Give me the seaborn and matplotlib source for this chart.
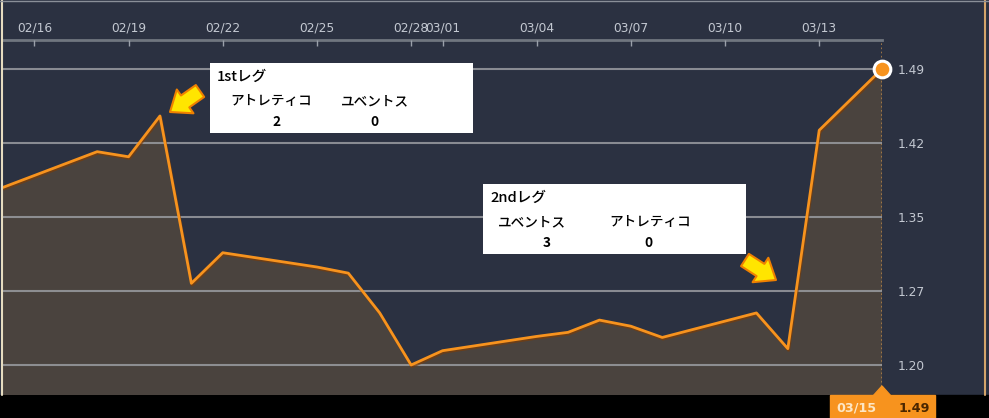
import matplotlib
matplotlib.use("Agg")
import matplotlib.pyplot as plt
import matplotlib.dates as mdates
import matplotlib.patheffects as pe
from matplotlib.patches import Rectangle, Polygon, FancyArrowPatch
from matplotlib.lines import Line2D
import pandas as pd
import seaborn as sns

# daily closing values (weekdays only)
dates = ["2019-02-15", "2019-02-18", "2019-02-19", "2019-02-20", "2019-02-21",
         "2019-02-22", "2019-02-25", "2019-02-26", "2019-02-27", "2019-02-28",
         "2019-03-01", "2019-03-04", "2019-03-05", "2019-03-06", "2019-03-07",
         "2019-03-08", "2019-03-11", "2019-03-12", "2019-03-13", "2019-03-14",
         "2019-03-15"]
prices = [1.374, 1.409, 1.404, 1.444, 1.280,
          1.310, 1.296, 1.290, 1.251, 1.200,
          1.214, 1.228, 1.232, 1.244, 1.238,
          1.227, 1.251, 1.216, 1.430, 1.460,
          1.490]

tick_dates = ["2019-02-16", "2019-02-19", "2019-02-22", "2019-02-25", "2019-02-28",
              "2019-03-01", "2019-03-04", "2019-03-07", "2019-03-10", "2019-03-13"]
ytick_vals = [1.20, 1.2725, 1.345, 1.4175, 1.49]
ytick_labels = ["1.20", "1.27", "1.35", "1.42", "1.49"]

leg1_title = "1stレグ"
leg1_teams = ["アトレティコ", "ユベントス"]
leg1_score = ["2", "0"]
leg2_title = "2ndレグ"
leg2_teams = ["ユベントス", "アトレティコ"]
leg2_score = ["3", "0"]

df = pd.DataFrame({"date": pd.to_datetime(dates), "price": prices})

navy = "#2b3141"
fill = "#4a433e"
orange = "#f7931e"
grid = "#9a9ca1"
txt = "#c3c8d1"

sns.set_style("dark")
plt.rcParams["font.family"] = ["DejaVu Sans", "Noto Sans CJK JP"]

W, H = 989, 418
fig = plt.figure(figsize=(W / 100, H / 100), dpi=100, facecolor=navy)
ax = fig.add_axes([3 / W, 23 / H, 879 / W, 355 / H])
ax.set_facecolor(navy)


def P(x, y):
    return (x / W, 1 - y / H)


ax.fill_between(df["date"], df["price"], 1.0, color=fill, lw=0, zorder=1)
sns.lineplot(data=df, x="date", y="price", ax=ax, color=orange, lw=2.0, zorder=3,
             path_effects=[pe.SimpleLineShadow(offset=(0.6, -1.2), shadow_color="#7a3c08", alpha=0.7),
                           pe.Normal()])

last_d, last_v = df["date"].iloc[-1], df["price"].iloc[-1]
ax.axvline(last_d, color="#b08048", ls=(0, (1, 1.5)), lw=1.2, zorder=2)
ax.plot([last_d], [last_v], "o", ms=12, mfc=orange, mec="white", mew=2.2,
        clip_on=False, zorder=6)

ax.set_xlim(pd.Timestamp("2019-02-15"), pd.Timestamp("2019-03-15"))
ax.set_ylim(1.1706, 1.5184)

ax.set_axisbelow(False)
ax.yaxis.grid(True, color=grid, lw=1.5, alpha=0.85)
ax.xaxis.grid(False)

ax.xaxis.tick_top()
ax.set_xticks(pd.to_datetime(tick_dates))
ax.xaxis.set_major_formatter(mdates.DateFormatter("%m/%d"))
ax.tick_params(axis="x", direction="in", length=4, width=1, color="#9aa0aa",
               pad=4, labelsize=8.8, labelcolor=txt)
ax.yaxis.tick_right()
ax.set_yticks(ytick_vals, ytick_labels)
ax.tick_params(axis="y", length=0, pad=11, labelsize=8.8, labelcolor=txt)
ax.set_xlabel("")
ax.set_ylabel("")
for s in ["left", "right", "bottom"]:
    ax.spines[s].set_visible(False)
ax.spines["top"].set_color("#70767f")
ax.spines["top"].set_linewidth(2)

# frame lines and bottom bar
fig.add_artist(Rectangle((0, 0), 1, 23 / H, transform=fig.transFigure, color="black", zorder=0))
fig.add_artist(Line2D([2 / W, 2 / W], [23 / H, 1], transform=fig.transFigure, color="#e6dcc0", lw=1.5))
fig.add_artist(Line2D([985 / W, 985 / W], [23 / H, 1], transform=fig.transFigure, color="#d4a46a", lw=1.5))
fig.add_artist(Line2D([0, 1], [1 - 1 / H, 1 - 1 / H], transform=fig.transFigure, color="#8a8f98", lw=1))

# current value label
fig.add_artist(Rectangle(P(830, 418), 105 / W, 23 / H, transform=fig.transFigure, color=orange, zorder=5))
fig.add_artist(Polygon([P(873, 396), P(882, 386), P(891, 396)], closed=True,
                       transform=fig.transFigure, color=orange, zorder=5))
fig.text(*P(856, 408), last_d.strftime("%m/%d"), color="#fde6c4", fontsize=9.2,
         ha="center", va="center", weight="bold", zorder=6)
fig.text(*P(914, 408), f"{last_v:.2f}", color="#4a2600", fontsize=9.2,
         ha="center", va="center", weight="bold", zorder=6)


def score_box(x0, y0, title, teams, scores, team_dx, score_dx):
    fig.add_artist(Rectangle(P(x0, y0 + 70), 263 / W, 70 / H, transform=fig.transFigure,
                             facecolor="white", edgecolor="none", zorder=7))
    cjk = ["Noto Sans CJK JP", "DejaVu Sans"]
    fig.text(*P(x0 + 7, y0 + 14), title, family=cjk, fontsize=10.5, color="black",
             ha="left", va="center", weight="medium", zorder=8)
    for t, s, dx, sx in zip(teams, scores, team_dx, score_dx):
        fig.text(*P(x0 + dx, y0 + 38), t, family=cjk, fontsize=9.8, color="black",
                 ha="center", va="center", weight="medium", zorder=8)
        fig.text(*P(x0 + sx, y0 + 59), s, family=cjk, fontsize=9.8, color="black",
                 ha="center", va="center", weight="bold", zorder=8)


score_box(210, 63, leg1_title, leg1_teams, leg1_score, [61, 165], [67, 164])
score_box(483, 184, leg2_title, leg2_teams, leg2_score, [49, 167], [64, 165])

arrow = dict(arrowstyle="simple,head_length=0.7,head_width=1.1,tail_width=0.55",
             fc="#ffe500", ec="#f08000", lw=1.5, mutation_scale=19, shrinkA=0, shrinkB=0)
fig.add_artist(FancyArrowPatch(P(200, 91), P(170, 112), transform=fig.transFigure, zorder=8, **arrow))
fig.add_artist(FancyArrowPatch(P(745, 260), P(776, 280), transform=fig.transFigure, zorder=8, **arrow))

fig.savefig("out.png", dpi=100, facecolor=fig.get_facecolor())
